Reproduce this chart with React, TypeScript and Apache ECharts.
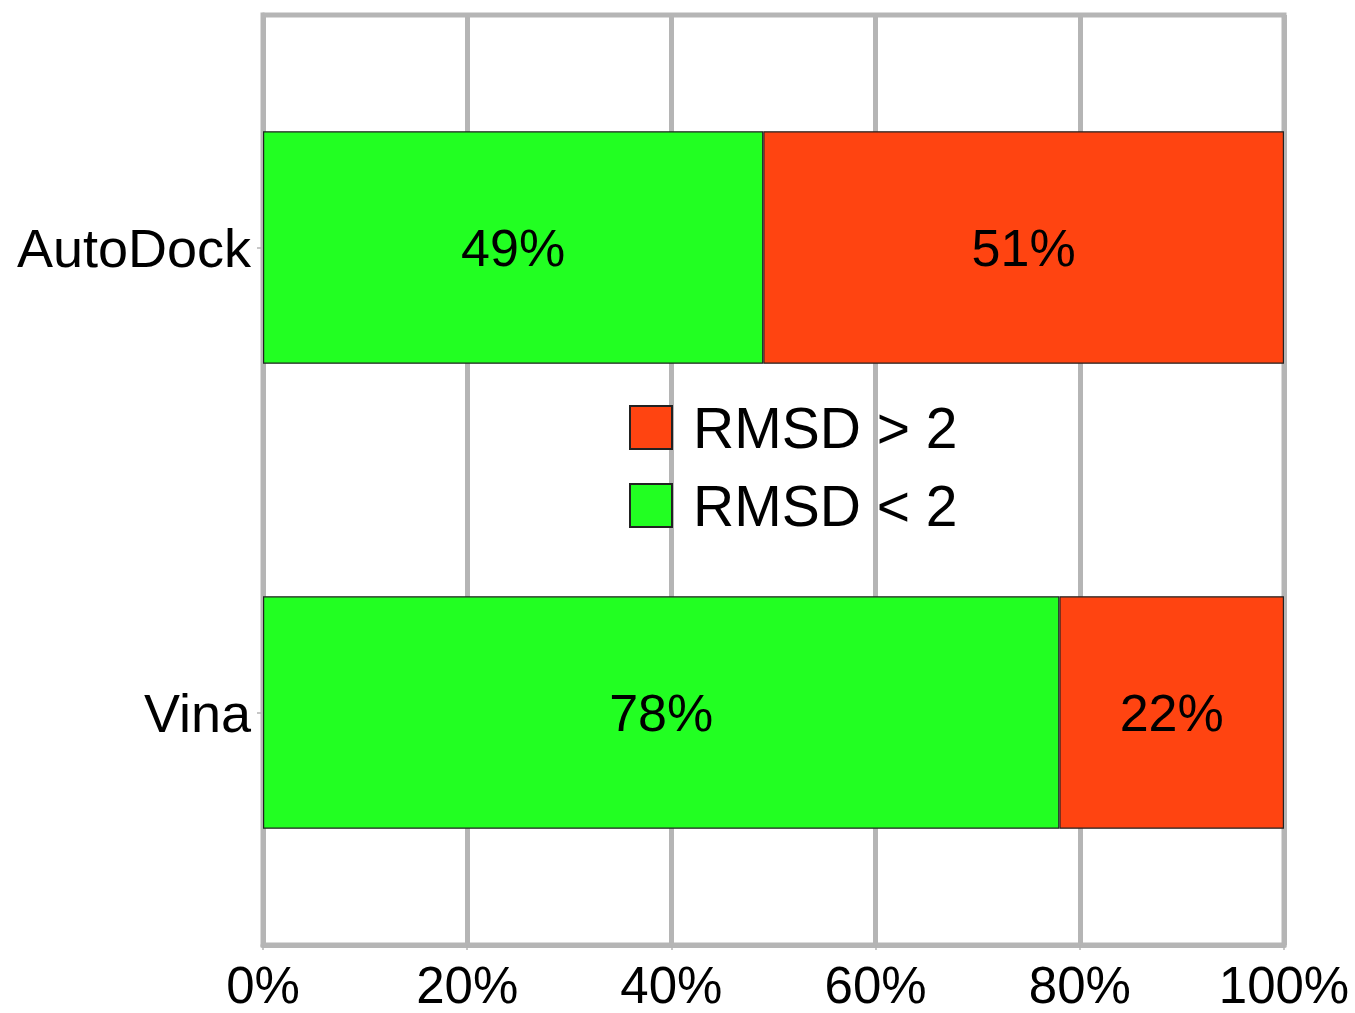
import React, { useEffect, useRef } from "react";
import * as echarts from "echarts";

const categories = ["AutoDock", "Vina"];
const below2 = [49, 78];
const above2 = [51, 22];
const xTicks = [0, 20, 40, 60, 80, 100];
const seriesNames = ["RMSD < 2", "RMSD > 2"];

const FONT = "Liberation Sans, Arial, sans-serif";
const GRID_COLOR = "#b5b5b5";

export default function App() {
  const ref = useRef<HTMLDivElement>(null);
  useEffect(() => {
    if (!ref.current) return;
    const chart = echarts.init(ref.current, undefined, { renderer: "svg" });
    const labelStyle = {
      show: true,
      position: "inside",
      formatter: "{c}%",
      fontSize: 52,
      color: "#000",
      fontFamily: FONT,
    };
    chart.setOption({
      animation: false,
      backgroundColor: "#fff",
      grid: {
        left: 263,
        right: 71,
        top: 15,
        bottom: 68,
        show: true,
        borderColor: GRID_COLOR,
        borderWidth: 5,
        containLabel: false,
      },
      legend: {
        data: [seriesNames[1], seriesNames[0]],
        orient: "vertical",
        left: 624,
        top: 394,
        itemWidth: 42,
        itemHeight: 43,
        itemGap: 21,
        icon: "rect",
        textStyle: { fontSize: 57, color: "#000", fontFamily: FONT, padding: [0, 0, 0, 16] },
      },
      xAxis: {
        type: "value",
        min: 0,
        max: 100,
        interval: 20,
        axisLine: { show: true, lineStyle: { color: GRID_COLOR, width: 5 } },
        axisTick: { show: true, length: 5, lineStyle: { color: GRID_COLOR, width: 1.5 } },
        splitLine: { show: true, lineStyle: { color: GRID_COLOR, width: 5 } },
        axisLabel: {
          formatter: (v: number) => (xTicks.includes(v) ? v + "%" : ""),
          fontSize: 51,
          color: "#000",
          fontFamily: FONT,
          margin: 15,
        },
      },
      yAxis: {
        type: "category",
        inverse: true,
        data: categories,
        axisLine: { show: true, lineStyle: { color: GRID_COLOR, width: 5 } },
        axisTick: { show: true, alignWithLabel: true, length: 6, lineStyle: { color: GRID_COLOR, width: 1.5 } },
        splitLine: { show: false },
        axisLabel: { fontSize: 54, color: "#000", fontFamily: FONT, margin: 12 },
      },
      series: [
        {
          name: seriesNames[0],
          type: "bar",
          stack: "total",
          barWidth: "50%",
          data: below2,
          itemStyle: { color: "#22ff22", borderColor: "#222", borderWidth: 1.2 },
          label: labelStyle,
        },
        {
          name: seriesNames[1],
          type: "bar",
          stack: "total",
          barWidth: "50%",
          data: above2,
          itemStyle: { color: "#ff4411", borderColor: "#222", borderWidth: 1.2 },
          label: labelStyle,
        },
      ],
    });
    return () => chart.dispose();
  }, []);
  return (
    <div
      ref={ref}
      style={{ position: "fixed", left: 0, top: 0, width: 1355, height: 1013, background: "#fff" }}
    />
  );
}
